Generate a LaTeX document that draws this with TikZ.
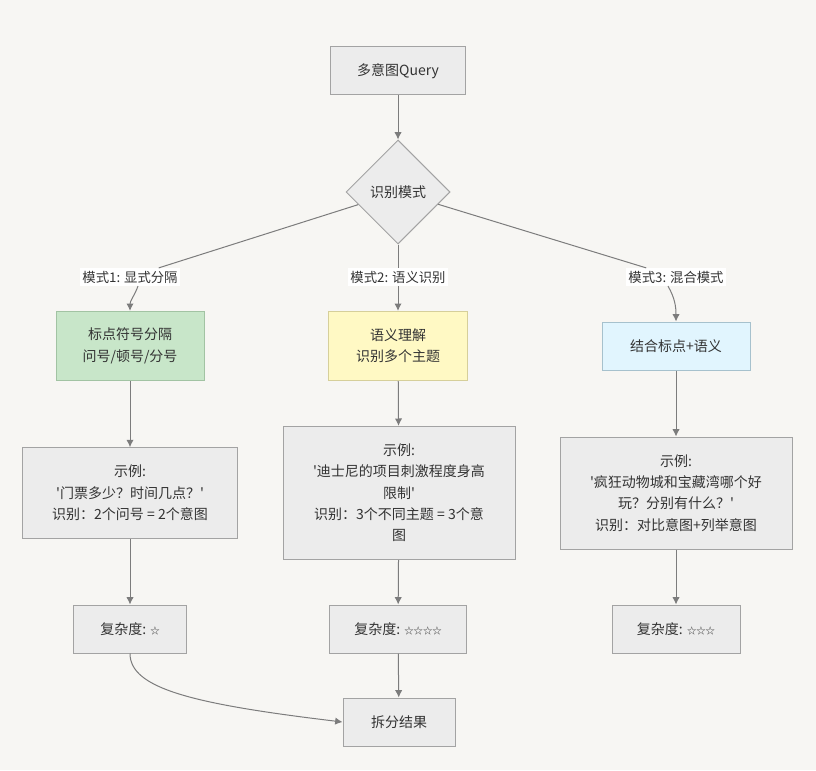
\documentclass[tikz,border=0pt]{standalone}
\usepackage{fontspec}
\setmainfont{Noto Sans CJK SC}
\usepackage{tikz}
\usetikzlibrary{arrows.meta,shapes.geometric,backgrounds}
\definecolor{pagebg}{HTML}{F7F6F3}
\definecolor{boxfill}{HTML}{ECECEC}
\definecolor{boxdraw}{HTML}{A3A3A3}
\definecolor{greenfill}{HTML}{C8E6C9}
\definecolor{greendraw}{HTML}{A2C3A3}
\definecolor{yellowfill}{HTML}{FFF9C4}
\definecolor{yellowdraw}{HTML}{D6CF9A}
\definecolor{bluefill}{HTML}{E1F5FE}
\definecolor{bluedraw}{HTML}{A6C1CD}
\definecolor{edgecolor}{HTML}{7C7C7C}
\definecolor{textcolor}{HTML}{333333}
\tikzset{
  >=Latex,
  flow box/.style={
    rectangle,
    draw=boxdraw,
    fill=boxfill,
    line width=0.75pt,
    inner sep=0pt,
    align=center,
    text=textcolor,
    font=\fontsize{10.5}{16}\selectfont
  },
  decision/.style={
    diamond,
    aspect=1,
    draw=boxdraw,
    fill=boxfill,
    line width=0.75pt,
    minimum size=78pt,
    inner sep=0pt,
    text=textcolor,
    font=\fontsize{10.5}{16}\selectfont
  },
  mode label/.style={
    fill=white,
    inner sep=2pt,
    text=textcolor,
    font=\fontsize{10}{14}\selectfont
  },
  connection/.style={
    draw=edgecolor,
    line width=0.75pt,
    -{Latex[length=5.5pt,width=5.5pt]}
  },
  plain link/.style={
    draw=edgecolor,
    line width=0.75pt
  }
}
\newcommand{\stars}[1]{{\fontsize{7}{7}\selectfont #1}}
\newcommand{\sq}{\textquotesingle}

\begin{document}
\begin{tikzpicture}[x=0.75pt,y=0.75pt]
  \useasboundingbox[fill=pagebg] (0,0) rectangle (816,-770);

  \node[flow box,minimum width=101pt,minimum height=36pt] (query) at (398,-71) {多意图Query};
  \node[decision] (mode) at (398,-192) {识别模式};

  \node[mode label] (L-1) at (130,-277) {模式1: 显式分隔};
  \node[mode label] (L-2) at (398,-277) {模式2: 语义识别};
  \node[mode label] (L-3) at (676,-277) {模式3: 混合模式};

  \node[flow box,fill=greenfill,draw=greendraw,minimum width=111pt,minimum height=52pt] (M-1) at (130,-346) {标点符号分隔\\问号/顿号/分号};
  \node[flow box,fill=yellowfill,draw=yellowdraw,minimum width=104pt,minimum height=52pt] (M-2) at (398,-346) {语义理解\\识别多个主题};
  \node[flow box,fill=bluefill,draw=bluedraw,minimum width=111pt,minimum height=36pt] (M-3) at (676,-346) {结合标点+语义};

  \node[flow box,minimum width=161pt,minimum height=68pt] (E-1) at (130,-493)
    {示例:\\\sq 门票多少？时间几点？\sq\\识别：2个问号 = 2个意图};
  \node[flow box,minimum width=174pt,minimum height=100pt] (E-2) at (399,-493)
    {示例:\\\sq 迪士尼的项目刺激程度身高\\限制\sq\\识别：3个不同主题 = 3个意\\图};
  \node[flow box,minimum width=174pt,minimum height=84pt] (E-3) at (676,-493)
    {示例:\\\sq 疯狂动物城和宝藏湾哪个好\\玩？分别有什么？\sq\\识别：对比意图+列举意图};

  \node[flow box,minimum width=85pt,minimum height=36pt] (C-1) at (130,-629) {复杂度: \stars{☆}};
  \node[flow box,minimum width=103pt,minimum height=36pt] (C-2) at (398,-629) {复杂度: \stars{☆☆☆☆}};
  \node[flow box,minimum width=96pt,minimum height=36pt] (C-3) at (676,-629) {复杂度: \stars{☆☆☆}};

  \node[flow box,minimum width=84pt,minimum height=36pt] (result) at (399,-722) {拆分结果};

  % main flow
  \draw[connection] (query) -- (mode);
  \draw[plain link] (mode) -- (L-1);
  \draw[plain link] (mode) -- (L-2);
  \draw[plain link] (mode) -- (L-3);
  \draw[connection] ([xshift=6pt]L-1.south) to[out=250,in=90] (M-1.north);
  \draw[connection] (L-2) -- (M-2);
  \draw[connection] ([xshift=-6pt]L-3.south) to[out=-60,in=90] (M-3.north);

  \foreach \k in {1,2,3}{
    \draw[connection] (M-\k) -- (E-\k);
    \draw[connection] (E-\k) -- (C-\k);
  }

  \draw[connection] (C-1.south) .. controls +(0,-35) and +(-150,18) .. (result.west);
  \draw[connection] (C-2) -- (result);
\end{tikzpicture}
\end{document}
